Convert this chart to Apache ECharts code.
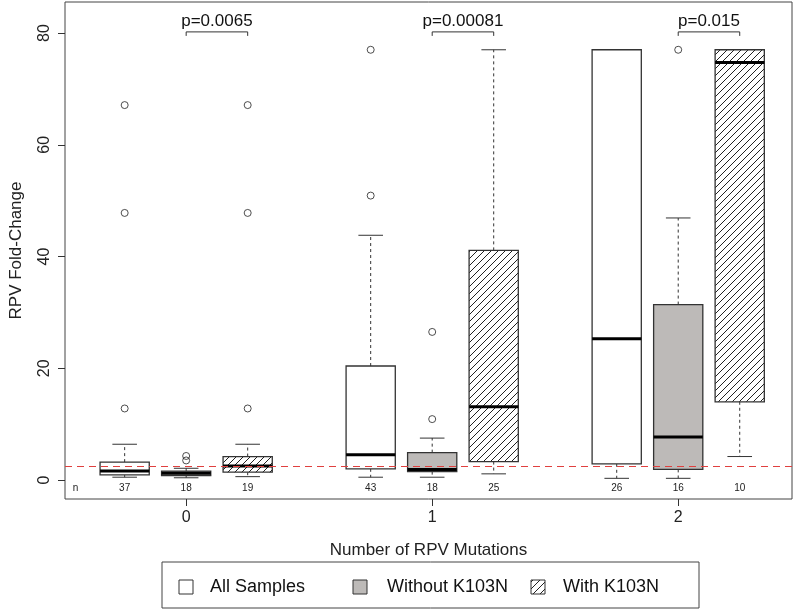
<!DOCTYPE html>
<html>
<head>
<meta charset="utf-8">
<script src="https://cdn.jsdelivr.net/npm/echarts@6/dist/echarts.min.js"></script>
<style>
  html, body { margin: 0; padding: 0; background: #fff; }
  #main { width: 800px; height: 611px; }
</style>
</head>
<body>
<div id="main"></div>
<script>
// number of RPV mutations (x tick labels)
var mutationLabels = ['0', '1', '2'];
var groupNames = ['All Samples', 'Without K103N', 'With K103N'];
// box stats per mutation group: [lower whisker, Q1, median, Q3, upper whisker]
var allSamples = [[0.5, 0.9, 1.6, 3.2, 6.4], [0.5, 2.0, 4.5, 20.4, 43.8], [0.3, 2.9, 25.3, 77.0, 77.0]];
var withoutK103N = [[0.4, 0.8, 1.2, 1.6, 2.1], [0.5, 1.5, 1.9, 4.9, 7.5], [0.3, 1.9, 7.7, 31.4, 46.9]];
var withK103N = [[0.6, 1.4, 2.5, 4.2, 6.4], [1.1, 3.3, 13.1, 41.1, 77.0], [4.2, 14.0, 74.7, 77.0, 77.0]];
// outliers per mutation group
var allOutliers = [[12.8, 47.8, 67.1], [50.9, 77.0], []];
var withoutOutliers = [[3.5, 4.3], [10.9, 26.5], [77.0]];
var withOutliers = [[12.8, 47.8, 67.1], [], []];
var sampleCounts = [[37, 18, 19], [43, 18, 25], [26, 16, 10]];
var pValues = ['p=0.0065', 'p=0.00081', 'p=0.015'];
var bracketLevel = 80.2;
var foldCutoff = 2.4;
var yTicks = [0, 20, 40, 60, 80];
var xTicks = [2, 6, 10];

var chart = echarts.init(document.getElementById('main'));

function hatchCanvas() {
  var c = document.createElement('canvas');
  c.width = 7;
  c.height = 7;
  var ctx = c.getContext('2d');
  ctx.fillStyle = '#fff';
  ctx.fillRect(0, 0, 7, 7);
  ctx.strokeStyle = '#222';
  ctx.lineWidth = 1;
  ctx.beginPath();
  ctx.moveTo(-1, 8); ctx.lineTo(8, -1);
  ctx.moveTo(-1, 1); ctx.lineTo(1, -1);
  ctx.moveTo(6, 8); ctx.lineTo(8, 6);
  ctx.stroke();
  return c;
}
var hatch = { image: hatchCanvas(), repeat: 'repeat' };
var fills = ['#ffffff', '#bdbab8', hatch];

// position of box k (0..2) in mutation group g
function pos(g, k) { return g * 4 + k + 1; }

function boxData(stats, k) {
  return stats.map(function (s, g) {
    return [pos(g, k)].concat(s).concat([sampleCounts[g][k]]);
  });
}
function outlierData(list, k) {
  var out = [];
  list.forEach(function (vals, g) {
    vals.forEach(function (v) { out.push([pos(g, k), v]); });
  });
  return out;
}

function makeBoxRender(fill) {
  return function (params, api) {
    var x = api.value(0);
    var lo = api.coord([x, api.value(1)]);
    var q1 = api.coord([x, api.value(2)]);
    var med = api.coord([x, api.value(3)]);
    var q3 = api.coord([x, api.value(4)]);
    var hi = api.coord([x, api.value(5)]);
    var lab = api.coord([x, -1.4]);
    var halfW = api.size([0.8, 0])[0] / 2;
    var cx = lo[0];
    var whisk = { stroke: '#333', lineWidth: 1, lineDash: [3, 3] };
    var solid = { stroke: '#333', lineWidth: 1 };
    return {
      type: 'group',
      children: [
        { type: 'line', shape: { x1: cx, y1: q3[1], x2: cx, y2: hi[1] }, style: whisk },
        { type: 'line', shape: { x1: cx, y1: q1[1], x2: cx, y2: lo[1] }, style: whisk },
        { type: 'line', shape: { x1: cx - halfW / 2, y1: hi[1], x2: cx + halfW / 2, y2: hi[1] }, style: solid },
        { type: 'line', shape: { x1: cx - halfW / 2, y1: lo[1], x2: cx + halfW / 2, y2: lo[1] }, style: solid },
        { type: 'rect', shape: { x: cx - halfW, y: q3[1], width: halfW * 2, height: q1[1] - q3[1] },
          style: { fill: fill, stroke: '#333', lineWidth: 1.3 } },
        { type: 'line', shape: { x1: cx - halfW, y1: med[1], x2: cx + halfW, y2: med[1] },
          style: { stroke: '#000', lineWidth: 3 } },
        { type: 'text', x: cx, y: lab[1],
          style: { text: String(api.value(6)), fontSize: 10, fontFamily: 'Liberation Sans', fill: '#222',
            align: 'center', verticalAlign: 'middle' } }
      ]
    };
  };
}

function bracketRender(params, api) {
  var a = api.coord([api.value(0), api.value(2)]);
  var b = api.coord([api.value(1), api.value(2)]);
  var st = { stroke: '#333', lineWidth: 1 };
  return {
    type: 'group',
    children: [
      { type: 'polyline', shape: { points: [[a[0], a[1] + 4], [a[0], a[1]], [b[0], b[1]], [b[0], b[1] + 4]] }, style: Object.assign({ fill: null }, st) },
      { type: 'text', x: (a[0] + b[0]) / 2, y: a[1] - 11,
        style: { text: pValues[params.dataIndex], fontSize: 17, fontFamily: 'Liberation Sans', fill: '#111',
          align: 'center', verticalAlign: 'middle' } }
    ]
  };
}

var brackets = mutationLabels.map(function (m, g) { return [pos(g, 1), pos(g, 2), bracketLevel]; });

var series = [];
[allSamples, withoutK103N, withK103N].forEach(function (stats, k) {
  series.push({
    name: groupNames[k],
    type: 'custom',
    renderItem: makeBoxRender(fills[k]),
    encode: { x: 0, y: [1, 2, 3, 4, 5] },
    data: boxData(stats, k),
    silent: true,
    z: 2
  });
});
series.push({
  type: 'scatter',
  data: outlierData(allOutliers, 0).concat(outlierData(withoutOutliers, 1)).concat(outlierData(withOutliers, 2)),
  symbol: 'circle',
  symbolSize: 7,
  itemStyle: { color: 'rgba(0,0,0,0)', borderColor: '#222', borderWidth: 1 },
  silent: true,
  z: 3,
  markLine: {
    silent: true,
    symbol: 'none',
    label: { show: false },
    lineStyle: { color: '#e0403f', type: [7, 5], width: 1 },
    data: [{ yAxis: foldCutoff }]
  }
});
series.push({
  type: 'custom',
  renderItem: bracketRender,
  encode: { x: [0, 1], y: 2 },
  data: brackets,
  silent: true,
  z: 4
});

var font = 'Liberation Sans';
var option = {
  backgroundColor: '#fff',
  animation: false,
  grid: {
    left: 65, right: 8, top: 2, bottom: 112,
    show: true, borderColor: '#444', borderWidth: 1, backgroundColor: 'transparent'
  },
  xAxis: {
    type: 'value',
    min: 0.03,
    max: 11.85,
    axisLine: { show: false, onZero: false },
    splitLine: { show: false },
    axisTick: { show: true, customValues: xTicks, length: 7, lineStyle: { color: '#333' } },
    axisLabel: {
      customValues: xTicks,
      formatter: function (v) { return mutationLabels[Math.round((v - 2) / 4)]; },
      margin: 11, fontSize: 16, fontFamily: font, color: '#222'
    },
    name: 'Number of RPV Mutations',
    nameLocation: 'middle',
    nameGap: 43,
    nameTextStyle: { fontSize: 17, fontFamily: font, color: '#222' }
  },
  yAxis: {
    type: 'value',
    min: -3.4,
    max: 85.55,
    axisLine: { show: false, onZero: false },
    splitLine: { show: false },
    axisTick: { show: true, customValues: yTicks, length: 7, lineStyle: { color: '#333' } },
    axisLabel: {
      customValues: yTicks, rotate: 90,
      margin: 12, fontSize: 16, fontFamily: font, color: '#222'
    },
    name: 'RPV Fold-Change',
    nameLocation: 'middle',
    nameGap: 40,
    nameRotate: 90,
    nameTextStyle: { fontSize: 17, fontFamily: font, color: '#222' }
  },
  series: series
};
chart.setOption(option);

// "n" marker and legend box
var nPos = chart.convertToPixel({ gridIndex: 0 }, [0.2, -1.4]);
var legendItems = [
  { icon: 179, text: 210 },
  { icon: 353, text: 387 },
  { icon: 531, text: 563 }
];
var graphics = [
  { type: 'text', x: nPos[0], y: nPos[1],
    style: { text: 'n', fontSize: 10, fontFamily: font, fill: '#222', align: 'center', verticalAlign: 'middle' } },
  { type: 'rect', shape: { x: 162, y: 562, width: 537, height: 46 },
    style: { fill: '#fff', stroke: '#444', lineWidth: 1 } }
];
legendItems.forEach(function (it, k) {
  graphics.push({ type: 'rect', shape: { x: it.icon, y: 580, width: 14, height: 14 },
    style: { fill: fills[k], stroke: '#333', lineWidth: 1 } });
  graphics.push({ type: 'text', x: it.text, y: 587,
    style: { text: groupNames[k], fontSize: 18, fontFamily: font, fill: '#111', verticalAlign: 'middle' } });
});
chart.setOption({ graphic: graphics });
</script>
</body>
</html>
